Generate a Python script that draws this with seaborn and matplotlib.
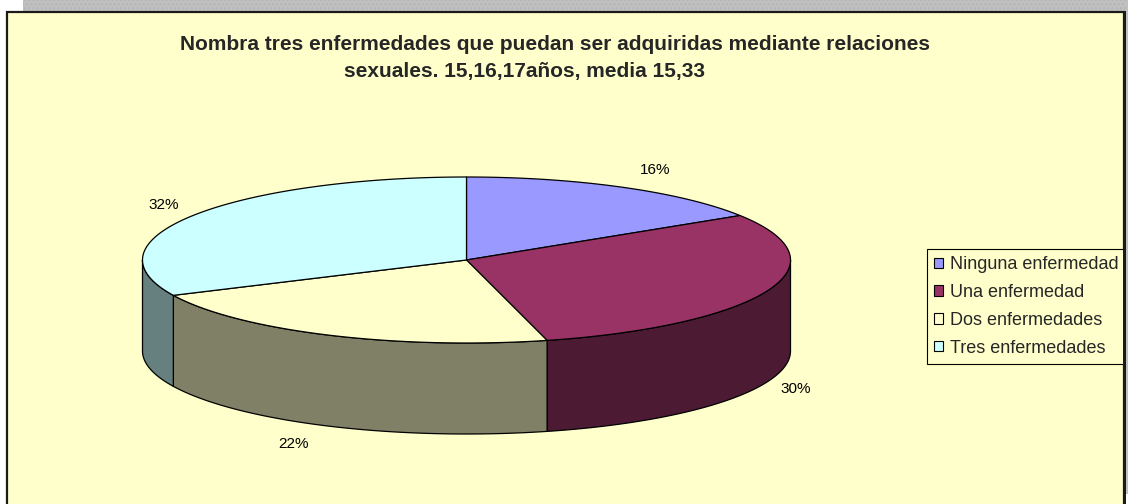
import numpy as np
import matplotlib
matplotlib.use("Agg")
import matplotlib.pyplot as plt
from matplotlib.patches import Polygon, Rectangle, Patch
import seaborn as sns

# Survey answers: how many sexually transmitted diseases could the student name
categories = ["Ninguna enfermedad", "Una enfermedad", "Dos enfermedades", "Tres enfermedades"]
percent = [16, 30, 22, 32]
title_lines = ["Nombra tres enfermedades que puedan ser adquiridas mediante relaciones",
               "sexuales. 15,16,17años, media 15,33"]

sns.set_theme(style="white")
plt.rcParams["font.family"] = ["Liberation Sans", "DejaVu Sans"]

top_colors = sns.color_palette(["#9999FF", "#993366", "#FFFFCC", "#CCFFFF"])
side_colors = [tuple(0.5 * c for c in col) for col in top_colors]
side_colors[2] = (0.50, 0.50, 0.40)
side_colors[3] = (0.40, 0.50, 0.50)

W, H = 1128, 504
fig = plt.figure(figsize=(W / 100, H / 100), dpi=100, facecolor="white")
ax = fig.add_axes([0, 0, 1, 1])
ax.set_xlim(0, W)
ax.set_ylim(H, 0)
ax.axis("off")

# window chrome and chart area
ax.add_patch(Rectangle((23, 0), W - 23, 12, facecolor="#C0C0C0", edgecolor="#B4B4B4",
                       hatch="....", lw=0, zorder=0))
ax.add_patch(Rectangle((7, 11.5), 1117, 520, facecolor="#FFFFCC", edgecolor="#1A1A1A",
                       lw=1.6, zorder=1))

# 3-D pie geometry
cx, cy, a, b, depth = 466.5, 260.0, 324.0, 83.0, 91.0


def ell(theta_deg, dz=0.0):
    t = np.radians(theta_deg)
    return np.column_stack([cx + a * np.cos(t), cy - b * np.sin(t) + dz])


fr = np.array(percent, dtype=float) / sum(percent)
cum = np.concatenate([[0], np.cumsum(fr)])
starts = 90 - 360 * cum[:-1]
ends = 90 - 360 * cum[1:]

# visible front walls (lower half of the ellipse)
for s, e, col in zip(starts, ends, side_colors):
    lo, hi = max(e, -180.0), min(s, 0.0)
    if hi <= lo:
        continue
    th = np.linspace(lo, hi, 120)
    pts = np.vstack([ell(th), ell(th[::-1], depth)])
    ax.add_patch(Polygon(pts, closed=True, facecolor=col, edgecolor="black",
                         lw=0.9, joinstyle="round", zorder=2))

# top faces
for s, e, col in zip(starts, ends, top_colors):
    th = np.linspace(s, e, 200)
    pts = np.vstack([[cx, cy], ell(th)])
    ax.add_patch(Polygon(pts, closed=True, facecolor=col, edgecolor="black",
                         lw=0.9, joinstyle="round", zorder=3))

# percentage labels outside each slice
for s, e, p in zip(starts, ends, percent):
    m = np.radians((s + e) / 2)
    c, sn = np.cos(m), np.sin(m)
    x = cx + (a + 24) * c + (6 if sn > 0 else -10)
    y = cy - (b + 20) * sn + (depth if sn < 0 else 0)
    ax.text(x, y, f"{p}%", ha="left" if c > 0 else "right", va="center",
            fontsize=11, color="black", zorder=4)

# title
ax.text(555, 45, title_lines[0], ha="center", va="center", fontsize=15,
        fontweight="bold", zorder=4)
ax.text(525, 72, title_lines[1], ha="center", va="center", fontsize=15,
        fontweight="bold", zorder=4)

# legend
handles = [Patch(facecolor=c, edgecolor="black", lw=0.8) for c in top_colors]
leg = ax.legend(handles, categories, loc="upper left",
                bbox_to_anchor=(927 / W, 1 - 249 / H), bbox_transform=fig.transFigure,
                frameon=True, fancybox=False,
                facecolor="#FFFFCC", edgecolor="black", framealpha=1,
                fontsize=13, handlelength=0.5, handleheight=0.5, handletextpad=0.35,
                labelspacing=0.6, borderpad=0.4, borderaxespad=0)
leg.get_frame().set_linewidth(0.8)
leg.set_zorder(5)

# right frame edge drawn over the legend overflow
ax.add_patch(Rectangle((1123, 11), 3, 500, facecolor="#1A1A1A", lw=0, zorder=10))
ax.add_patch(Rectangle((1126, 0), 2, 494, facecolor="#C0C0C0", lw=0, zorder=10))

fig.savefig("out.png", dpi=100, facecolor=fig.get_facecolor())
